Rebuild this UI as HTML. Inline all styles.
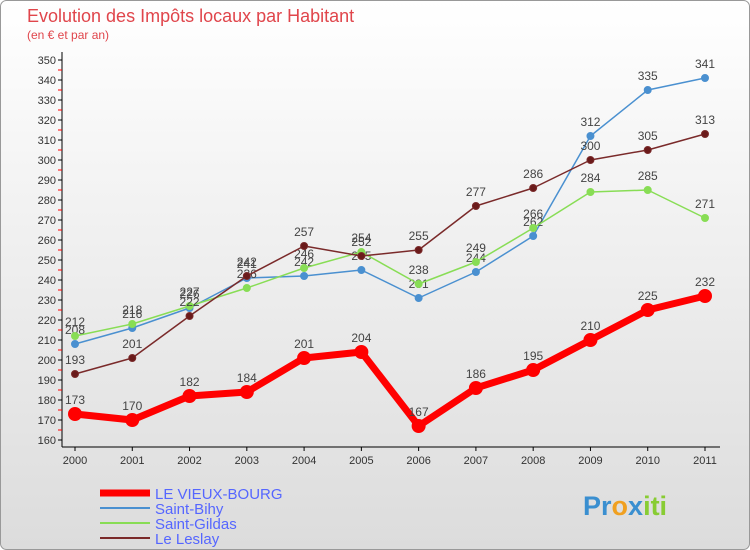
<!DOCTYPE html>
<html><head><meta charset="utf-8"><style>
body{margin:0;width:750px;height:550px;overflow:hidden;font-family:"Liberation Sans",sans-serif}
svg{display:block}
</style></head><body>
<svg id="c" width="750" height="550">
<defs><linearGradient id="bg" x1="0" y1="0" x2="0" y2="1"><stop offset="0" stop-color="#ffffff"/><stop offset="1" stop-color="#dcdcdc"/></linearGradient></defs>
<rect x="0.5" y="0.5" width="749" height="549" rx="6" fill="url(#bg)" stroke="#999"/>
<text x="27" y="22" font-size="18" fill="#e0454b">Evolution des Impôts locaux par Habitant</text>
<text x="27" y="39" font-size="12" fill="#e0454b">(en € et par an)</text>
<g id="axes"></g><g id="series"></g>
<g>
<line x1="100" y1="493" x2="150" y2="493" stroke="#ff0000" stroke-width="7"/>
<text x="155" y="499" font-size="15" fill="#5566ff">LE VIEUX-BOURG</text>
<line x1="100" y1="508" x2="150" y2="508" stroke="#4a90d0" stroke-width="2"/>
<text x="155" y="514" font-size="15" fill="#5566ff">Saint-Bihy</text>
<line x1="100" y1="523" x2="150" y2="523" stroke="#88dd55" stroke-width="2"/>
<text x="155" y="529" font-size="15" fill="#5566ff">Saint-Gildas</text>
<line x1="100" y1="538" x2="150" y2="538" stroke="#7a2a2a" stroke-width="2"/>
<text x="155" y="544" font-size="15" fill="#5566ff">Le Leslay</text>
</g>
<text x="583" y="515" font-size="27" font-weight="bold"><tspan fill="#3a8fd0">Pr</tspan><tspan fill="#f0a020">o</tspan><tspan fill="#3a8fd0">x</tspan><tspan fill="#88cc33">iti</tspan></text>
</svg>
<script>
const years=[2000,2001,2002,2003,2004,2005,2006,2007,2008,2009,2010,2011];
const yTicks=[160,170,180,190,200,210,220,230,240,250,260,270,280,290,300,310,320,330,340,350];
const vieuxBourg=[173,170,182,184,201,204,167,186,195,210,225,232];
const saintBihy=[208,216,226,241,242,245,231,244,262,312,335,341];
const saintGildas=[212,218,227,236,246,254,238,249,266,284,285,271];
const leLeslay=[193,201,222,242,257,252,255,277,286,300,305,313];
const NS="http://www.w3.org/2000/svg";
const X=i=>75+i*(630/11);
const Y=v=>440-(v-160)*2;
function mk(t,a,p){const e=document.createElementNS(NS,t);for(const k in a)e.setAttribute(k,a[k]);p.appendChild(e);return e;}
const ax=document.getElementById('axes');
let l=mk('line',{x1:62,y1:52,x2:62,y2:447,stroke:'#000'},ax);


l=mk('line',{x1:62,y1:447,x2:720,y2:447,stroke:'#000'},ax);


yTicks.forEach(v=>{
 mk('line',{x1:58,y1:Y(v),x2:62,y2:Y(v),stroke:'#000'},ax);
 if(v<350)mk('line',{x1:58,y1:Y(v+5),x2:62,y2:Y(v+5),stroke:'#f00'},ax);
 const t=mk('text',{x:56,y:Y(v)+4,'font-size':11,'text-anchor':'end',fill:'#333'},ax);
 t.textContent=v;
 
 
});
years.forEach((y,i)=>{
 mk('line',{x1:X(i),y1:447,x2:X(i),y2:451,stroke:'#000'},ax);
 const t=mk('text',{x:X(i),y:464,'font-size':11,'text-anchor':'middle',fill:'#333'},ax);
 t.textContent=y;
 
 
});
const sg=document.getElementById('series');
function draw(vals,color,w,r,name,dot){
 const g=mk('g',{},sg);
 
 
 const p=mk('polyline',{points:vals.map((v,i)=>X(i)+','+Y(v)).join(' '),fill:'none',stroke:color,'stroke-width':w,'stroke-linejoin':'round'},g);
 
 
 vals.forEach((v,i)=>{
  const c=mk('circle',{cx:X(i),cy:Y(v),r:r,fill:dot,stroke:color,'stroke-width':1},g);
  
  
  const t=mk('text',{x:X(i),y:Y(v)-10,'font-size':12,'text-anchor':'middle',fill:'#444'},g);
  t.textContent=v;
  
  
 });
}
draw(saintBihy,'#4a90d0',1.5,3.5,'saint-bihy','#4a90d0');
draw(saintGildas,'#88dd55',1.5,3.5,'saint-gildas','#88dd55');
draw(leLeslay,'#7a2a2a',1.5,3.5,'le-leslay','#6a1a1a');
draw(vieuxBourg,'#ff0000',7,6.5,'le-vieux-bourg','#ff0000');
</script>
</body></html>
